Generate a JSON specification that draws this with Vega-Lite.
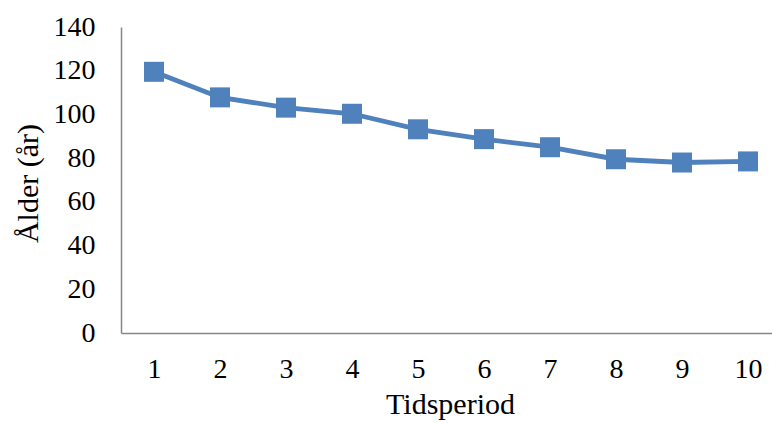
{
  "$schema": "https://vega.github.io/schema/vega-lite/v6.json",
  "width": 651,
  "height": 306,
  "autosize": "none",
  "padding": {"left": 121, "top": 27, "right": 0, "bottom": 90},
  "background": "white",
  "config": {
    "view": {"stroke": null},
    "font": "Liberation Serif",
    "axis": {
      "labelFont": "Liberation Serif",
      "titleFont": "Liberation Serif",
      "labelColor": "#000000",
      "titleColor": "#000000",
      "titleFontWeight": "normal",
      "labelFontSize": 28,
      "titleFontSize": 30,
      "grid": false,
      "ticks": false,
      "domainColor": "#868686",
      "domainWidth": 1.5
    }
  },
  "data": {
    "values": [
      {"period": 1, "age": 119.5},
      {"period": 2, "age": 107.8},
      {"period": 3, "age": 103.1},
      {"period": 4, "age": 100.3},
      {"period": 5, "age": 93.2},
      {"period": 6, "age": 88.7},
      {"period": 7, "age": 85.0},
      {"period": 8, "age": 79.5},
      {"period": 9, "age": 78.0},
      {"period": 10, "age": 78.5}
    ]
  },
  "encoding": {
    "x": {
      "field": "period",
      "type": "quantitative",
      "scale": {"domain": [0.5, 10.364], "nice": false, "zero": false},
      "axis": {
        "values": [1, 2, 3, 4, 5, 6, 7, 8, 9, 10],
        "title": "Tidsperiod",
        "labelBaseline": "alphabetic",
        "labelPadding": 44,
        "labelFlush": false,
        "titleBaseline": "alphabetic",
        "titleY": 80,
        "titleX": 329
      }
    },
    "y": {
      "field": "age",
      "type": "quantitative",
      "scale": {"domain": [0, 140], "nice": false},
      "axis": {
        "values": [0, 20, 40, 60, 80, 100, 120, 140],
        "title": "Ålder (år)",
        "labelPadding": 26,
        "labelBaseline": "middle",
        "labelFlush": false,
        "titleBaseline": "alphabetic",
        "titleAngle": -90,
        "titleAlign": "center",
        "titleX": -84,
        "titleY": 156
      }
    }
  },
  "layer": [
    {"mark": {"type": "line", "color": "#4F81BD", "strokeWidth": 4.8}},
    {"mark": {"type": "point", "shape": "square", "filled": true, "size": 400, "color": "#4F81BD", "opacity": 1}}
  ]
}
